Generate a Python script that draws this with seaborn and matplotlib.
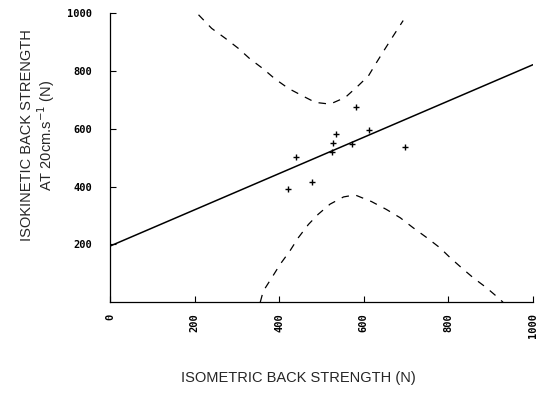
import pandas as pd
import seaborn as sns
import matplotlib.pyplot as plt

isometric = [581, 613, 533, 528, 571, 524, 697, 439, 478, 421]
isokinetic = [675, 597, 580, 552, 548, 521, 537, 501, 415, 393]

# dashed limit curves
upper_x = [209, 240, 272, 303, 331, 362, 390, 422, 457, 485, 520, 556, 587, 611, 630, 650, 670, 693]
upper_y = [994, 947, 913, 878, 841, 807, 772, 739, 712, 691, 685, 708, 749, 783, 829, 876, 922, 974]
lower_x = [355, 362, 382, 402, 425, 445, 469, 492, 520, 552, 579, 618, 653, 686, 716, 749, 780, 804, 831, 859, 890, 918, 929]
lower_y = [0, 38, 84, 131, 177, 223, 269, 304, 339, 364, 371, 348, 321, 292, 258, 223, 188, 154, 119, 84, 50, 15, 0]

x_ticks = [0, 200, 400, 600, 800, 1000]
y_ticks = [200, 400, 600, 800, 1000]

df = pd.DataFrame({"iso": isometric, "kin": isokinetic})

sns.set_style("ticks")
fig = plt.figure(figsize=(5.4, 3.95), dpi=100)
ax = fig.add_axes([0.204, 0.235, 0.783, 0.732])
ax.set_xlim(0, 1000)
ax.set_ylim(0, 1000)

# regression line across the full axis
sns.regplot(data=df, x="iso", y="kin", ax=ax, ci=None, truncate=False,
            scatter=False, line_kws=dict(color="black", lw=1.1))
sns.scatterplot(data=df, x="iso", y="kin", ax=ax, marker="+", color="black",
                s=20, linewidth=1.0)
ax.plot(upper_x, upper_y, color="black", lw=0.9, dashes=(6, 6))
ax.plot(lower_x, lower_y, color="black", lw=0.9, dashes=(6, 6))

ax.set_xlim(0, 1000)
ax.set_ylim(0, 1000)
ax.set_xticks(x_ticks)
ax.set_yticks(y_ticks)
ax.set_xticklabels([str(v) for v in x_ticks], rotation=90,
                   family="DejaVu Sans Mono", fontsize=7.5, fontweight="bold")
ax.set_yticklabels([str(v) for v in y_ticks],
                   family="DejaVu Sans Mono", fontsize=7.5, fontweight="bold")
ax.tick_params(axis="both", direction="in", length=4, width=0.8, colors="black")
ax.tick_params(axis="y", pad=13)
ax.tick_params(axis="x", pad=8)
ax.set_xlabel("")
ax.set_ylabel("")
sns.despine(ax=ax)
for s in ["left", "bottom"]:
    ax.spines[s].set_linewidth(0.9)
    ax.spines[s].set_color("black")

fig.text(0.553, 0.043, "ISOMETRIC BACK STRENGTH (N)", ha="center", va="center",
         fontsize=10.5, family="Liberation Sans")
fig.text(0.050, 0.658, "ISOKINETIC BACK STRENGTH", rotation=90, ha="center",
         va="center", fontsize=10.5, family="Liberation Sans")
fig.text(0.086, 0.658, r"AT 20cm.s$^{-1}$ (N)", rotation=90, ha="center",
         va="center", fontsize=10.5, family="Liberation Sans")

fig.savefig("out.png", dpi=100)
